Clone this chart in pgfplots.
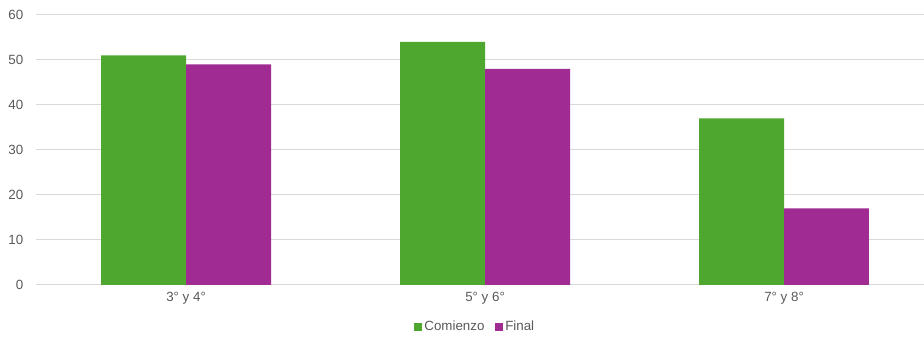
\documentclass[border=0pt]{standalone}
\usepackage{pgfplots}
\pgfplotsset{compat=1.18}
\usepackage{fontspec}
\setmainfont{Liberation Sans}
\definecolor{cgreen}{HTML}{4EA72E}
\definecolor{cpurple}{HTML}{A02B93}
\definecolor{tgray}{HTML}{595959}
\definecolor{ggray}{HTML}{D9D9D9}
\begin{document}
\begin{tikzpicture}[x=0.75pt,y=0.75pt]
\path[use as bounding box] (0,0) rectangle (924,338);
\begin{axis}[
  at={(27pt,39.75pt)}, anchor=south west,
  scale only axis, width=666pt, height=202.5pt,
  ybar=0pt, bar width=0.284,
  xmin=-0.502, xmax=2.468, ymin=0, ymax=60,
  ytick={0,10,...,60},
  xtick=data, xticklabels={3° y 4°, 5° y 6°, 7° y 8°},
  ymajorgrids, grid style={ggray, line width=0.75pt},
  axis line style={draw=none},
  major tick length=0pt,
  tick label style={font=\fontsize{10}{12}\selectfont, text=tgray},
  /pgf/number format/assume math mode=true,
  yticklabel style={xshift=-6pt},
  xticklabel style={yshift=-2pt},
  legend style={at={(0.495,-0.155)}, anchor=center, draw=none, legend columns=-1,
    font=\fontsize{10}{12}\selectfont, text=tgray, /tikz/every even column/.append style={column sep=6pt}},
  legend image code/.code={\fill[#1] (0pt,-2.8pt) rectangle (5.6pt,2.8pt);},
]
\addplot[fill=cgreen, draw=none] coordinates {(0,51) (1,54) (2,37)};
\addplot[fill=cpurple, draw=none] coordinates {(0,49) (1,48) (2,17)};
\legend{Comienzo, Final}
\end{axis}
\end{tikzpicture}
\end{document}
